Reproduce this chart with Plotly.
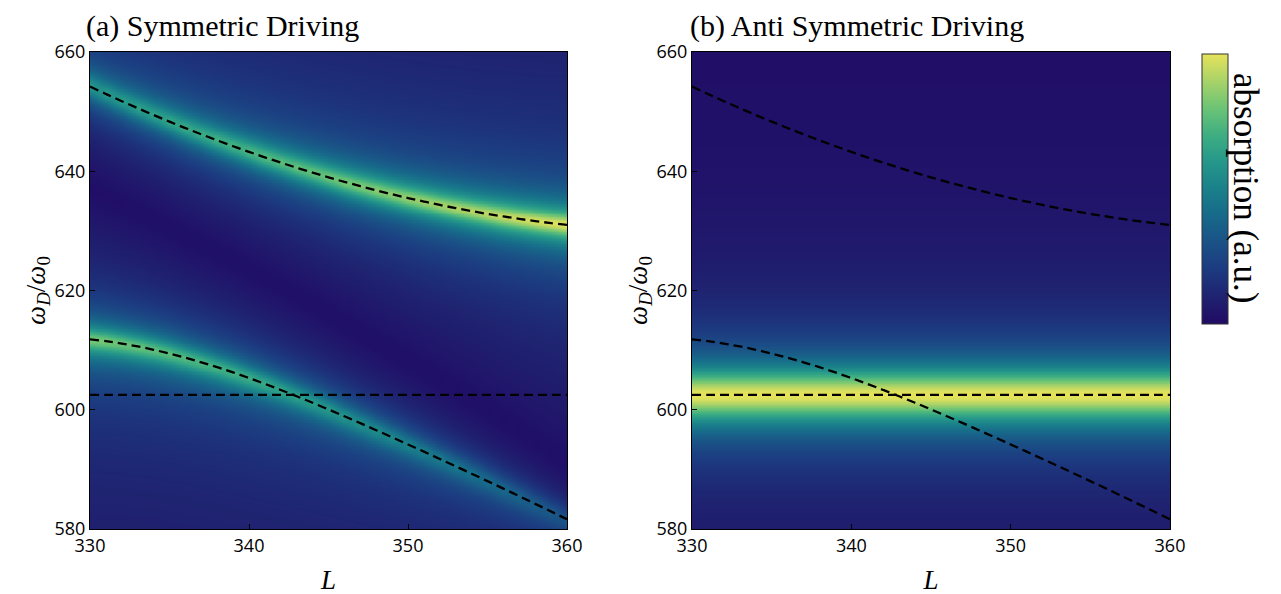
import numpy as np
import plotly.graph_objects as go

# mode frequencies (omega_D / omega_0 vs L)
L = [330, 331, 332, 333, 334, 335, 336, 337, 338, 339, 340,
     341, 342, 343, 344, 345, 346, 347, 348, 349, 350,
     351, 352, 353, 354, 355, 356, 357, 358, 359, 360]
upper = [654.20, 652.96, 651.75, 650.58, 649.43, 648.32, 647.24, 646.20, 645.18, 644.20,
         643.25, 642.33, 641.45, 640.59, 639.77, 638.98, 638.22, 637.50, 636.80, 636.14,
         635.51, 634.92, 634.35, 633.82, 633.32, 632.85, 632.42, 632.01, 631.64, 631.30,
         631.00]
lower = [611.80, 611.50, 611.10, 610.62, 610.06, 609.42, 608.72, 607.96, 607.14, 606.26,
         605.32, 604.34, 603.32, 602.26, 601.17, 600.05, 598.91, 597.75, 596.57, 595.38,
         594.18, 592.97, 591.75, 590.52, 589.28, 588.03, 586.77, 585.50, 584.22, 582.93,
         581.63]
flat = [602.5] * len(L)

# peak brightness of each branch (symmetric driving), read by eye
amp_upper = [0.52, 0.54, 0.55, 0.57, 0.58, 0.60, 0.62, 0.63, 0.65, 0.66, 0.68,
             0.70, 0.71, 0.73, 0.74, 0.76, 0.78, 0.79, 0.81, 0.82, 0.84,
             0.86, 0.87, 0.89, 0.90, 0.92, 0.94, 0.95, 0.97, 0.98, 1.00]
amp_lower = [0.78, 0.77, 0.75, 0.74, 0.72, 0.71, 0.69, 0.68, 0.66, 0.65, 0.63,
             0.61, 0.59, 0.57, 0.55, 0.53, 0.51, 0.49, 0.47, 0.45, 0.43,
             0.41, 0.39, 0.37, 0.35, 0.33, 0.31, 0.29, 0.27, 0.25, 0.23]
amp_flat = [1.0] * len(L)
gamma_sym = 1.6
gamma_anti = 3.9

titles = ["(a) Symmetric Driving", "(b) Anti Symmetric Driving"]

# ~~~~~~~~~~~~~~~~~~~~~~~~~~~~~~~~~~~~~~~~~~~~~~~~~~~~~~~~~~~~~~~~~~~~~~~~~~~~~~

w = np.arange(580, 660.01, 0.25)[:, None]


def response(centre, amp, g):
    # complex response of one mode, peak magnitude = amp
    return np.array(amp)[None, :] * g / (w - np.array(centre)[None, :] + 1j * g)


# symmetric drive: both branches interfere (dark valley between them)
z_sym = np.abs(response(upper, amp_upper, gamma_sym)
               + response(lower, amp_lower, gamma_sym)) ** 0.8
z_anti = np.abs(response(flat, amp_flat, gamma_anti)) ** 1.46

cscale = [
    [0.0, "#210a65"], [0.1, "#1f2270"], [0.2, "#1c3a80"], [0.3, "#1a5186"],
    [0.4, "#17698a"], [0.5, "#1a808a"], [0.6, "#25978a"], [0.7, "#3eae82"],
    [0.8, "#6cc475"], [0.9, "#a8d268"], [1.0, "#e6e35a"],
]

serif = "Liberation Serif"
sans = "Open Sans"

# page body adds an 8px margin, so layout pixels are screen pixels minus 8
W, H, OFF = 1281, 594, 8


def px(x):
    return (x - OFF) / W


def py(y):
    return 1 - (y - OFF) / H


fig = go.Figure()

for i, z in enumerate([z_sym, z_anti]):
    xa = "x" if i == 0 else "x2"
    ya = "y" if i == 0 else "y2"
    fig.add_trace(go.Heatmap(
        x=L, y=w[:, 0], z=z, xaxis=xa, yaxis=ya, zsmooth="best",
        colorscale=cscale, zmin=0, zmax=1, showscale=(i == 1),
        colorbar=dict(
            x=px(1202), xanchor="left", y=py(54), yanchor="top",
            lenmode="pixels", len=270, thickness=26, xpad=0, ypad=0,
            outlinecolor="#333", outlinewidth=1,
            showticklabels=False, ticks="",
        ),
        hoverinfo="skip",
    ))
    for curve in [upper, lower, flat]:
        fig.add_trace(go.Scatter(
            x=L, y=curve, xaxis=xa, yaxis=ya, mode="lines",
            line=dict(color="black", width=2.3, dash="9px,5px", shape="spline"),
            showlegend=False, hoverinfo="skip",
        ))

ax = dict(
    showline=True, linecolor="black", linewidth=1.2, mirror=True,
    ticks="inside", ticklen=5, tickwidth=1, tickcolor="black",
    showgrid=False, zeroline=False, automargin=False,
    tickfont=dict(family=sans, size=18, color="black"),
)
xlab = dict(text="<i>L</i>", font=dict(family=serif, size=27, color="black"),
            standoff=14)
ylab = dict(text="<i>ω</i><sub><i>D</i></sub>/<i>ω</i><sub>0</sub>",
            font=dict(family=serif, size=27, color="black"), standoff=0)

fig.update_layout(
    width=W, height=H,
    margin=dict(l=0, r=0, t=0, b=0, autoexpand=False),
    paper_bgcolor="white", plot_bgcolor="white",
    showlegend=False,
    xaxis=dict(ax, domain=[px(90), px(567)], range=[330, 360],
               tickvals=[330, 340, 350, 360], title=xlab, anchor="y"),
    yaxis=dict(ax, domain=[py(529), py(52)], range=[580, 660],
               tickvals=[580, 600, 620, 640, 660], title=ylab, anchor="x"),
    xaxis2=dict(ax, domain=[px(692), px(1170)], range=[330, 360],
                tickvals=[330, 340, 350, 360], title=xlab, anchor="y2"),
    yaxis2=dict(ax, domain=[py(529), py(52)], range=[580, 660],
                tickvals=[580, 600, 620, 640, 660], title=ylab, anchor="x2"),
)

for x0, t in zip([85, 689], titles):
    fig.add_annotation(
        text=t, x=px(x0), y=1, xref="paper", yref="paper",
        xanchor="left", yanchor="top", showarrow=False, borderpad=0,
        font=dict(family=serif, size=30, color="black"),
    )

# colourbar label, reading top to bottom
fig.add_annotation(
    text="absorption (a.u.)", x=px(1245), y=py(188),
    xref="paper", yref="paper", xanchor="center", yanchor="middle",
    textangle=90, showarrow=False,
    font=dict(family=serif, size=35, color="black"),
)

fig.write_html("out.html")
